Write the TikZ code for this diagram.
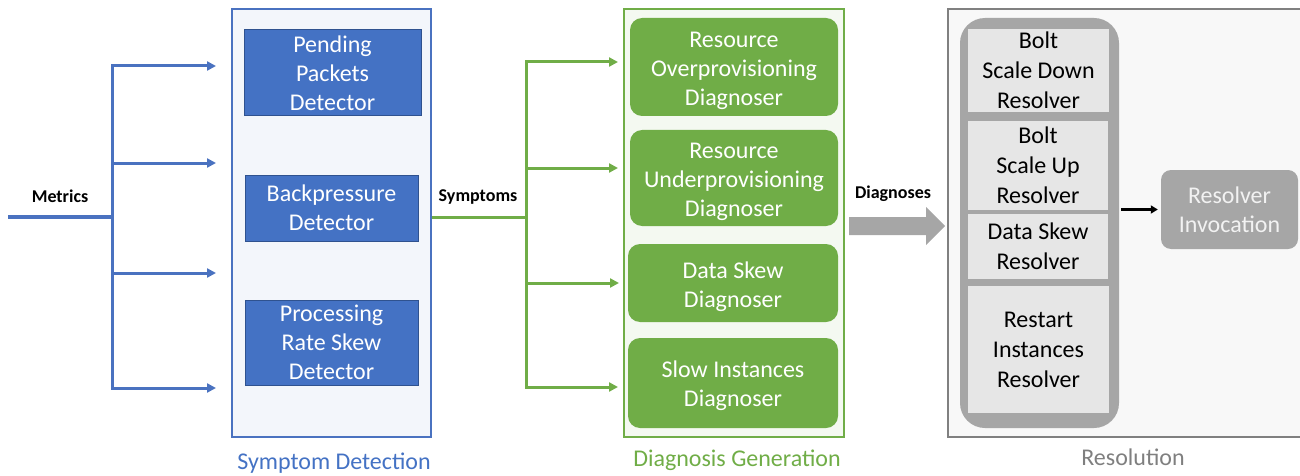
\documentclass[tikz,border=0pt]{standalone}
\usepackage{fontspec}
\setmainfont{Carlito}
\usetikzlibrary{arrows.meta}
\definecolor{bluef}{HTML}{4472C4}
\definecolor{blued}{HTML}{2F528F}
\definecolor{bluebg}{HTML}{F3F6FB}
\definecolor{blueln}{HTML}{4A72C0}
\definecolor{greenf}{HTML}{70AD47}
\definecolor{greenbg}{HTML}{F4F9F1}
\definecolor{greyf}{HTML}{A6A6A6}
\definecolor{greybg}{HTML}{F8F8F8}
\definecolor{greyln}{HTML}{808080}
\definecolor{greyin}{HTML}{E6E6E6}
\definecolor{greytx}{HTML}{7F7F7F}
\begin{document}
\begin{tikzpicture}[x=1pt,y=-1pt,
  txt/.style={font=\fontsize{24}{29}\selectfont, align=center, inner sep=0pt},
  small/.style={font=\fontsize{18}{22}\selectfont\bfseries, inner sep=0pt},
  panel/.style={draw, line width=1.5pt, inner sep=0pt},
  detbox/.style={txt, rectangle, fill=bluef, draw=blued, line width=1pt, text=white},
  diagbox/.style={rectangle, rounded corners=12pt, fill=greenf, inner sep=0pt},
  diagtxt/.style={txt, text=white},
  resbox/.style={txt, font=\fontsize{24}{30}\selectfont, rectangle, fill=greyin, text=black},
  bline/.style={draw=blueln, line width=3pt},
  gline/.style={draw=greenf, line width=3pt},
  tip/.style={-{Triangle[length=9pt,width=9pt]}}
]
\useasboundingbox (0,0) rectangle (1300,476);

% panels
\node[panel, draw=blueln, fill=bluebg, minimum width=199, minimum height=428] (sympanel) at (331.5,223) {};
\node[panel, draw=greenf, fill=greenbg, minimum width=220, minimum height=428] (diagpanel) at (734,223) {};
\fill[greybg] (948,9) rectangle (1302,437);
\draw[greyln, line width=1.5pt] (1302,9) -- (948,9) -- (948,437) -- (1302,437);

% detectors
\node[detbox, minimum width=177, minimum height=86] (pend) at (332.5,73) {Pending\\Packets\\Detector};
\node[detbox, minimum width=173, minimum height=66] (back) at (331.5,208) {Backpressure\\Detector};
\node[detbox, minimum width=173, minimum height=85] (proc) at (331.5,342.5) {Processing\\Rate Skew\\Detector};

% diagnosers
\node[diagbox, minimum width=208, minimum height=98] (d1) at (734,67) {};
\node[diagbox, minimum width=208, minimum height=96] (d2) at (734,178) {};
\node[diagbox, minimum width=210, minimum height=78] (d3) at (733,283) {};
\node[diagbox, minimum width=210, minimum height=90] (d4) at (733,383) {};
\node[diagtxt] (d1t) at ([yshift=-3.5pt]d1.center) {Resource\\Overprovisioning\\Diagnoser};
\node[diagtxt] (d2t) at ([yshift=-4pt]d2.center) {Resource\\Underprovisioning\\Diagnoser};
\node[diagtxt] (d3t) at ([yshift=-3.5pt]d3.center) {Data Skew\\Diagnoser};
\node[diagtxt] (d4t) at ([yshift=-3pt]d4.center) {Slow Instances\\Diagnoser};

% resolvers
\node[rectangle, rounded corners=25pt, fill=greyf, minimum width=159, minimum height=410, inner sep=0pt] (cont) at (1039.5,223) {};
\node[resbox, minimum width=141, minimum height=83] (r1) at (1038.5,70.5) {Bolt\\Scale Down\\Resolver};
\node[resbox, minimum width=140, minimum height=89] (r2) at (1038,165.5) {Bolt\\Scale Up\\Resolver};
\node[resbox, minimum width=140, minimum height=65] (r3) at (1038,246.5) {Data Skew\\Resolver};
\node[resbox, minimum width=141, minimum height=127] (r4) at (1038.5,349.5) {Restart\\Instances\\Resolver};
\node[txt, rectangle, rounded corners=10pt, fill=greyf, text=white!95!black, minimum width=137, minimum height=79] (invoc) at (1229.5,209.5) {Resolver\\Invocation};

% labels
\node[small] (lmetrics) at (60,196) {Metrics};
\node[small] (lsymptoms) at (478,197) {Symptoms};
\node[small] (ldiagnoses) at (893,194) {Diagnoses};
\node[txt, text=bluef] (tsym) at (334,463) {Symptom Detection};
\node[txt, text=greenf] (tdiag) at (737,460) {Diagnosis Generation};
\node[txt, text=greytx] (tres) at (1133,457) {Resolution};

% metrics connectors
\coordinate (mIn) at (8,217);
\coordinate (mJ) at (112,217);
\coordinate (b1) at (216,66);
\coordinate (b2) at (216,163);
\coordinate (b3) at (216,273);
\coordinate (b4) at (216,388);
\draw[bline, line width=3.5pt] (mIn) -- (mJ);
\draw[bline, tip] (mJ) |- (b1);
\draw[bline, tip] (mJ) |- (b2);
\draw[bline, tip] (mJ) |- (b3);
\draw[bline, tip] (mJ) |- (b4);

% symptoms connectors
\coordinate (sJ) at (526,217);
\coordinate (g1) at (618,62);
\coordinate (g2) at (618,168);
\coordinate (g3) at (619,283);
\coordinate (g4) at (618,387);
\draw[gline] (sympanel.east |- sJ) -- (sJ);
\draw[gline, tip] (sJ) |- (g1);
\draw[gline, tip] (sJ) |- (g2);
\draw[gline, tip] (sJ) |- (g3);
\draw[gline, tip] (sJ) |- (g4);

% diagnoses block arrow
\fill[greyf] (849,217) -- (926,217) -- (926,207) -- (945,226) -- (926,245) -- (926,235) -- (849,235) -- cycle;

% resolver -> invocation
\draw[line width=2.5pt, -{Triangle[length=7pt,width=8pt]}, shorten <=2pt, shorten >=3pt] (cont.east |- invoc.west) -- (invoc.west);
\end{tikzpicture}
\end{document}
